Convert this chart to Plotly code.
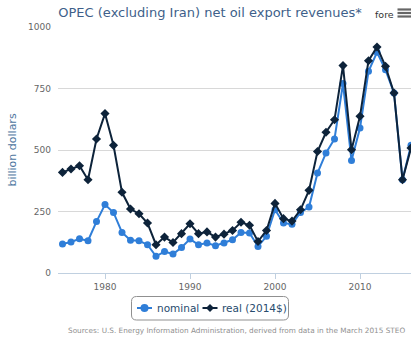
import plotly.graph_objects as go

years = list(range(1975, 2017))
nominal = [118, 126, 139, 131, 209, 278, 246, 165, 133, 131, 115, 68, 87, 77, 104,
           138, 115, 122, 111, 122, 135, 165, 163, 108, 149, 257, 203, 198, 246, 268,
           406, 488, 545, 770, 457, 589, 820, 897, 826, 732, 379, 519]
real = [409, 423, 436, 379, 545, 648, 519, 328, 260, 241, 203, 115, 146, 124, 160,
        200, 160, 167, 146, 158, 173, 206, 194, 128, 173, 283, 221, 211, 257, 336,
        494, 572, 623, 843, 501, 637, 863, 919, 840, 732, 379, 508]
x_ticks = [1980, 1990, 2000, 2010]
y_ticks = [0, 250, 500, 750, 1000]
series_names = ["nominal", "real (2014$)"]
series_colors = ["#2f7ed8", "#0d233a"]

W, H = 411, 343
L, R, T, B = 58, 0, 27, 70
pw, ph = W - L - R, H - T - B


def px(x):
    return (x - L) / pw


def py(y):
    return (H - B - y) / ph


FONT = "DejaVu Sans"

fig = go.Figure()
fig.add_trace(go.Scatter(
    x=years, y=nominal, name=series_names[0], mode="lines+markers",
    line=dict(color=series_colors[0], width=2),
    marker=dict(symbol="circle", size=7, color=series_colors[0]),
))
fig.add_trace(go.Scatter(
    x=years, y=real, name=series_names[1], mode="lines+markers",
    line=dict(color=series_colors[1], width=2),
    marker=dict(symbol="diamond", size=7, color=series_colors[1]),
))

shapes = []
annotations = []
# rounded legend border
x0, x1 = px(131.5), px(288.5)
y0, y1 = py(320), py(296.5)
rx, ry = 5 / pw, 5 / ph
path = (f"M{x0+rx},{y1} L{x1-rx},{y1} Q{x1},{y1} {x1},{y1-ry} "
        f"L{x1},{y0+ry} Q{x1},{y0} {x1-rx},{y0} L{x0+rx},{y0} "
        f"Q{x0},{y0} {x0},{y0+ry} L{x0},{y1-ry} Q{x0},{y1} {x0+rx},{y1} Z")
shapes.append(dict(type="path", xref="paper", yref="paper", path=path,
                   line=dict(color="#909090", width=1), fillcolor="rgba(0,0,0,0)"))
# legend entries
ly = 308
sym_centers = [144.5, 210]
text_left = [155.5, 220.5]
for i in range(2):
    cx = sym_centers[i]
    shapes.append(dict(type="line", xref="paper", yref="paper",
                       x0=px(cx - 7.5), x1=px(cx + 7.5), y0=py(ly), y1=py(ly),
                       line=dict(color=series_colors[i], width=2)))
    if i == 0:
        r = 4
        shapes.append(dict(type="circle", xref="paper", yref="paper",
                           x0=px(cx - r), x1=px(cx + r), y0=py(ly + r), y1=py(ly - r),
                           fillcolor=series_colors[i], line=dict(width=0)))
    else:
        r = 4
        dpath = (f"M{px(cx)},{py(ly - r)} L{px(cx + r)},{py(ly)} "
                 f"L{px(cx)},{py(ly + r)} L{px(cx - r)},{py(ly)} Z")
        shapes.append(dict(type="path", xref="paper", yref="paper", path=dpath,
                           fillcolor=series_colors[i], line=dict(width=0)))
    annotations.append(dict(text=series_names[i], xref="paper", yref="paper",
                            x=px(text_left[i]), y=py(ly), xanchor="left",
                            yanchor="middle", showarrow=False, xshift=-1,
                            font=dict(family=FONT, size=10.5, color="#274b6d")))
# menu button (hamburger)
for yy in (9.5, 13, 16.5):
    shapes.append(dict(type="line", xref="paper", yref="paper",
                       x0=px(397.5), x1=px(411), y0=py(yy), y1=py(yy),
                       line=dict(color="#666666", width=2.2)))

annotations += [
    dict(text="fore", xref="paper", yref="paper", x=px(373), y=py(14.5),
         xanchor="left", yanchor="middle", showarrow=False,
         font=dict(family=FONT, size=9.5, color="#333333")),
    dict(text="Sources: U.S. Energy Information Administration, derived from data in the March 2015 STEO",
         xref="paper", yref="paper", x=px(66), y=py(330), xanchor="left",
         yanchor="middle", showarrow=False,
         font=dict(family=FONT, size=7.3, color="#909090")),
]

fig.update_layout(
    width=W, height=H,
    margin=dict(l=L, r=R, t=T, b=B, autoexpand=False),
    paper_bgcolor="white", plot_bgcolor="white",
    font=dict(family=FONT, color="#666666"),
    title=dict(text="OPEC (excluding Iran) net oil export revenues*",
               xref="container", yref="container", x=210 / W, y=1 - 12 / H,
               xanchor="center", yanchor="middle",
               font=dict(family=FONT, size=13, color="#3e5f8a")),
    xaxis=dict(range=[1974.47, 2016.0], tickvals=x_ticks, ticks="outside",
               ticklen=5, tickcolor="#C0D0E0", showline=True, linecolor="#C0D0E0",
               linewidth=1, showgrid=False, zeroline=False,
               tickfont=dict(family=FONT, size=9, color="#666666")),
    yaxis=dict(range=[0, 1000], tickvals=y_ticks, showgrid=True, gridcolor="#D8D8D8",
               zeroline=False, showline=False, ticks="", ticklabelstandoff=6,
               tickfont=dict(family=FONT, size=9, color="#666666"),
               title=dict(text="billion dollars", standoff=9,
                          font=dict(family=FONT, size=11, color="#4d759e"))),
    showlegend=False,
    shapes=shapes,
    annotations=annotations,
)

fig.write_html("out.html", config={"displayModeBar": False})
